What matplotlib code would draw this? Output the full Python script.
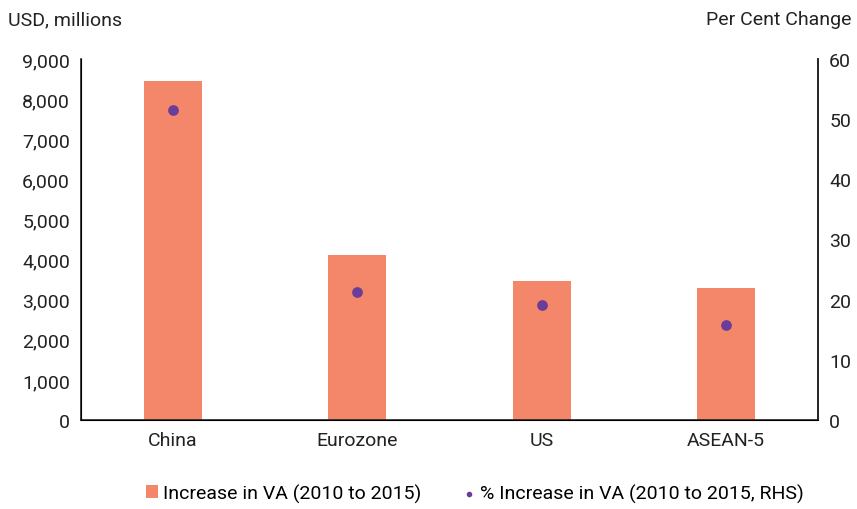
import matplotlib
matplotlib.use("Agg")
import matplotlib.pyplot as plt
from matplotlib.ticker import FuncFormatter

categories = ["China", "Eurozone", "US", "ASEAN-5"]
va_increase = [8450, 4110, 3460, 3290]
pct_increase = [51.6, 21.3, 19.1, 15.8]

plt.rcParams['font.family'] = ['Roboto', 'DejaVu Sans']
FS = 14

fig = plt.figure(figsize=(8.57, 5.10), dpi=100)
ax = fig.add_axes([81/857, 1-421/510, (818-81)/857, (421-60)/510])
x = list(range(len(categories)))
bars = ax.bar(x, va_increase, width=0.315, color="#F4866A", label="Increase in VA (2010 to 2015)", zorder=2)
ax.set_xlim(-0.5, 3.5)
ax.set_ylim(0, 9000)
ax.set_yticks(range(0, 9001, 1000))
ax.yaxis.set_major_formatter(FuncFormatter(lambda v, p: f"{int(v):,}"))
ax.set_xticks(x)
ax.set_xticklabels(categories)
ax.tick_params(axis='x', length=0, pad=8, labelsize=FS, colors="#222222")
ax.tick_params(axis='y', length=0, pad=8, labelsize=FS, colors="#222222")
ax.spines['top'].set_visible(False)
for s in ['left', 'right', 'bottom']:
    ax.spines[s].set_color("#222222")
    ax.spines[s].set_linewidth(1.2)

ax2 = ax.twinx()
sc = ax2.scatter(x, pct_increase, s=45, color="#6A3D9A", zorder=3, label="% Increase in VA (2010 to 2015, RHS)")
ax2.set_ylim(0, 60)
ax2.set_yticks(range(0, 61, 10))
ax2.tick_params(axis='y', length=0, pad=8, labelsize=FS, colors="#222222")
ax2.spines['top'].set_visible(False)
ax2.spines['right'].set_color("#222222")
ax2.spines['right'].set_linewidth(1.2)

fig.text(8/857, 1-20/510, "USD, millions", fontsize=FS, color="#222222", va="center", ha="left")
fig.text(852/857, 1-20/510, "Per Cent Change", fontsize=FS, color="#222222", va="center", ha="right")

fig.legend([bars, sc], [bars.get_label(), sc.get_label()], loc="center", bbox_to_anchor=(475/857, 1-494/510),
           ncol=2, frameon=False, fontsize=FS, handlelength=0.6, handleheight=0.6, handletextpad=0.25,
           columnspacing=2.2, markerscale=0.45)

fig.savefig("out.png", dpi=100)
